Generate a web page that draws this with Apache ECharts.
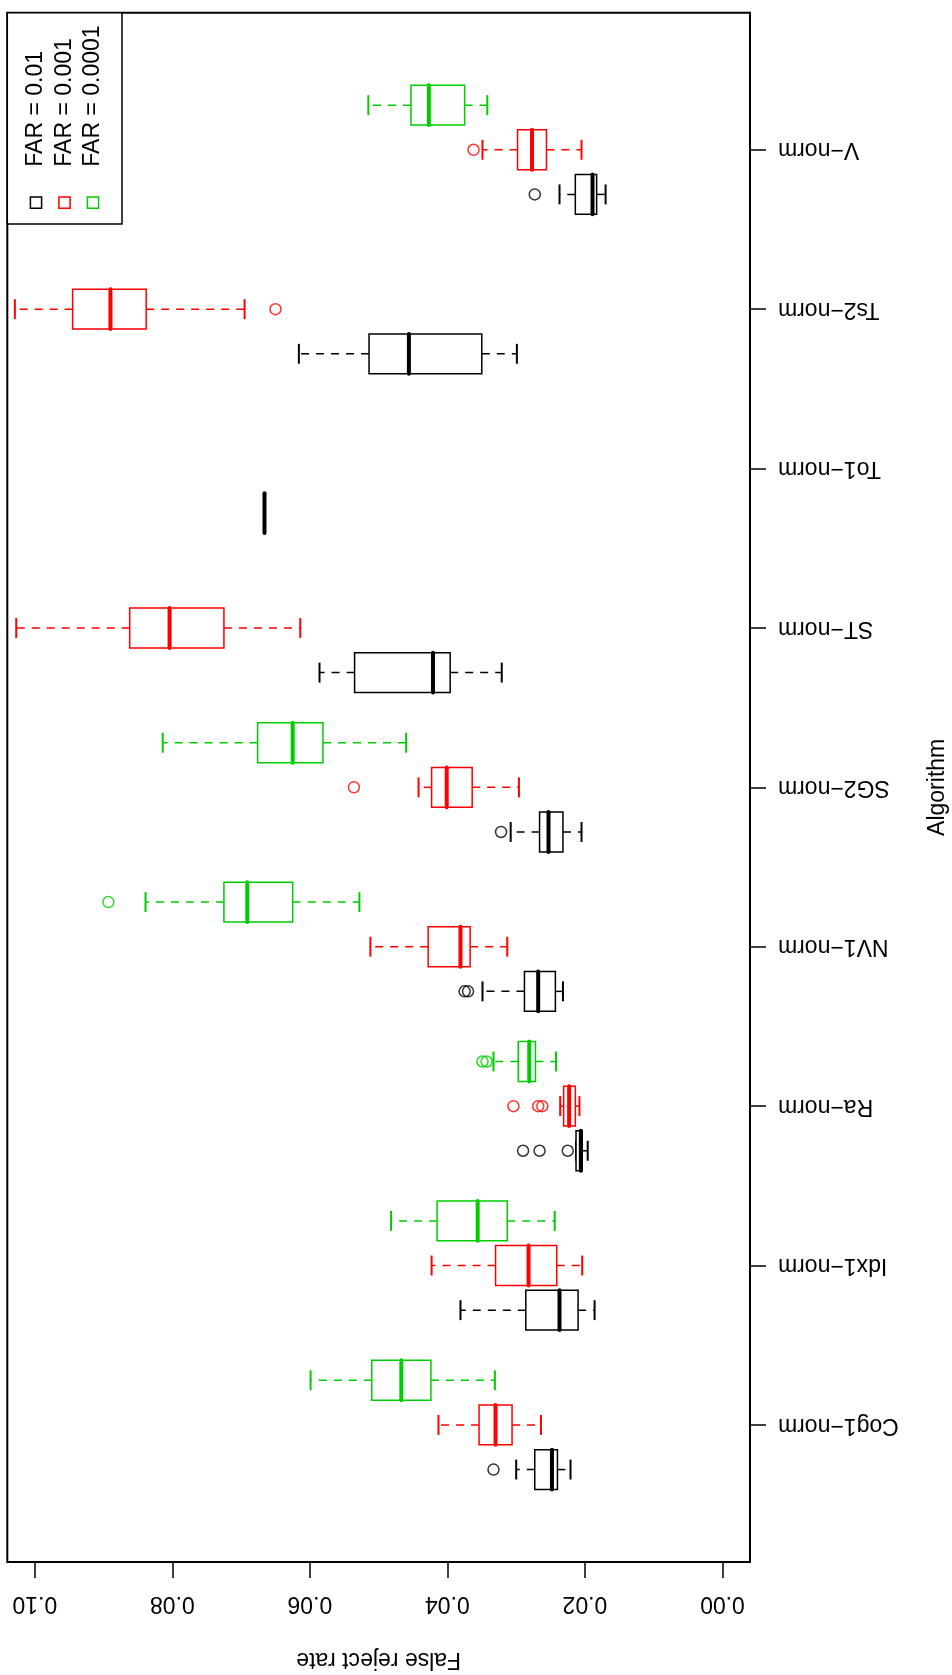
<!DOCTYPE html>
<html>
<head>
<meta charset="utf-8">
<script src="https://cdn.jsdelivr.net/npm/echarts@6/dist/echarts.min.js"></script>
<style>
  html, body { margin: 0; padding: 0; background: #ffffff; }
  #chart { width: 952px; height: 1675px; }
</style>
</head>
<body>
<div id="chart"></div>
<script>
// Algorithms, bottom to top
const categories = ['Cog1\u2212norm', 'Idx1\u2212norm', 'Ra\u2212norm', 'NV1\u2212norm', 'SG2\u2212norm',
                    'ST\u2212norm', 'To1\u2212norm', 'Ts2\u2212norm', 'V\u2212norm'];

const levelNames = ['FAR = 0.01', 'FAR = 0.001', 'FAR = 0.0001'];
const levelColors = ['#000000', '#FF0000', '#00CD00'];

const rateTicks = [0, 0.02, 0.04, 0.06, 0.08, 0.10];

// Five-number summaries per algorithm: [lower whisker, Q1, median, Q3, upper whisker]
const far01 = [
  [0.0221, 0.0240, 0.0248, 0.0273, 0.0300],
  [0.0186, 0.0210, 0.0237, 0.0286, 0.0381],
  [0.0196, 0.0204, 0.0206, 0.0213, 0.0213],
  [0.0232, 0.0243, 0.0268, 0.0288, 0.0349],
  [0.0205, 0.0232, 0.0253, 0.0266, 0.0308],
  [0.0321, 0.0396, 0.0421, 0.0535, 0.0586],
  [0.0666, 0.0666, 0.0666, 0.0666, 0.0666],
  [0.0299, 0.0350, 0.0456, 0.0514, 0.0616],
  [0.0170, 0.0183, 0.0189, 0.0214, 0.0237]
];
const far001 = [
  [0.0264, 0.0306, 0.0330, 0.0354, 0.0413],
  [0.0204, 0.0241, 0.0282, 0.0330, 0.0423],
  [0.0208, 0.0214, 0.0223, 0.0231, 0.0236],
  [0.0313, 0.0367, 0.0381, 0.0428, 0.0512],
  [0.0296, 0.0364, 0.0401, 0.0423, 0.0442],
  [0.0614, 0.0725, 0.0804, 0.0862, 0.1027],
  null,
  [0.0695, 0.0838, 0.0890, 0.0945, 0.1029],
  [0.0205, 0.0256, 0.0277, 0.0298, 0.0349]
];
const far0001 = [
  [0.0331, 0.0424, 0.0467, 0.0510, 0.0599],
  [0.0244, 0.0313, 0.0356, 0.0415, 0.0482],
  [0.0242, 0.0272, 0.0281, 0.0297, 0.0333],
  [0.0528, 0.0625, 0.0691, 0.0725, 0.0839],
  [0.0460, 0.0581, 0.0625, 0.0676, 0.0814],
  null,
  null,
  null,
  [0.0342, 0.0375, 0.0427, 0.0453, 0.0515]
];

// Outliers: [algorithm index, false reject rate]
const out01 = [[0, 0.0333], [2, 0.0225], [2, 0.0266], [2, 0.0290], [3, 0.0370], [3, 0.0375], [4, 0.0322], [8, 0.0273]];
const out001 = [[2, 0.0262], [2, 0.0268], [2, 0.0304], [4, 0.0536], [7, 0.0650], [8, 0.0362]];
const out0001 = [[2, 0.0343], [2, 0.0349], [3, 0.0893]];

const levelStats = [far01, far001, far0001];
const levelOutliers = [out01, out001, out0001];

// Position of each FAR level within an algorithm slot, and box half-height (axis units)
const slotOffsets = [-0.28, 0, 0.28];
const boxHalf = 0.125;

const FONT = '"Liberation Sans", Arial, Helvetica, sans-serif';
const FS = 23;

function boxRenderer(color) {
  return function (params, api) {
    const pos = api.value(0);
    const lo = api.value(1), q1 = api.value(2), md = api.value(3), q3 = api.value(4), hi = api.value(5);
    const yC = api.coord([0, pos])[1];
    const yT = api.coord([0, pos + boxHalf])[1];
    const yB = api.coord([0, pos - boxHalf])[1];
    const ysT = api.coord([0, pos + boxHalf / 2])[1];
    const ysB = api.coord([0, pos - boxHalf / 2])[1];
    const X = v => api.coord([v, pos])[0];
    const xLo = X(lo), xQ1 = X(q1), xMd = X(md), xQ3 = X(q3), xHi = X(hi);
    const dashed = { stroke: color, lineWidth: 1.5, lineDash: [8, 7] };
    return {
      type: 'group',
      children: [
        { type: 'line', shape: { x1: xQ3, y1: yC, x2: xHi, y2: yC }, style: dashed },
        { type: 'line', shape: { x1: xQ1, y1: yC, x2: xLo, y2: yC }, style: dashed },
        { type: 'line', shape: { x1: xHi, y1: ysT, x2: xHi, y2: ysB }, style: { stroke: color, lineWidth: 2 } },
        { type: 'line', shape: { x1: xLo, y1: ysT, x2: xLo, y2: ysB }, style: { stroke: color, lineWidth: 2 } },
        { type: 'rect', shape: { x: Math.min(xQ1, xQ3), y: yT, width: Math.abs(xQ3 - xQ1), height: yB - yT },
          style: { stroke: color, lineWidth: 1.5, fill: '#ffffff' } },
        { type: 'line', shape: { x1: xMd, y1: yT, x2: xMd, y2: yB },
          style: { stroke: color, lineWidth: 4, lineCap: 'round' } }
      ]
    };
  };
}

const series = [];
levelStats.forEach((stats, li) => {
  const data = [];
  stats.forEach((s, i) => {
    if (s) data.push([i + 1 + slotOffsets[li]].concat(s));
  });
  series.push({
    name: levelNames[li],
    type: 'custom',
    renderItem: boxRenderer(levelColors[li]),
    encode: { x: [1, 2, 3, 4, 5], y: 0 },
    data: data,
    z: 2
  });
  series.push({
    name: levelNames[li] + ' outliers',
    type: 'scatter',
    symbol: 'circle',
    symbolSize: 11,
    itemStyle: { color: 'rgba(0,0,0,0)', borderColor: levelColors[li], borderWidth: 1.5 },
    data: levelOutliers[li].map(([i, v]) => [v, i + 1 + slotOffsets[li]]),
    z: 3
  });
});

// Legend drawn in the upper-left corner of the frame
const legendGraphics = [
  { type: 'rect', shape: { x: 7.3, y: 12.7, width: 114.7, height: 211.3 },
    style: { fill: '#ffffff', stroke: '#000000', lineWidth: 1.5 }, z: 10 }
];
const legendX = [36, 64.5, 93];
levelNames.forEach((name, li) => {
  legendGraphics.push({
    type: 'rect', shape: { x: legendX[li] - 5.6, y: 202.7 - 5.6, width: 11.2, height: 11.2 },
    style: { fill: null, stroke: levelColors[li], lineWidth: 1.5 }, z: 11
  });
  legendGraphics.push({
    type: 'text', x: legendX[li], y: 166.7, rotation: Math.PI / 2,
    style: { text: name, fill: '#000000', font: FS + 'px ' + FONT, align: 'left', verticalAlign: 'middle' },
    z: 11
  });
});

const chart = echarts.init(document.getElementById('chart'), null, { renderer: 'canvas' });
chart.setOption({
  animation: false,
  backgroundColor: '#ffffff',
  grid: {
    left: 7.3, top: 12.7, right: 202, bottom: 113,
    show: true, borderColor: '#000000', borderWidth: 2, backgroundColor: 'transparent',
    containLabel: false, outerBoundsMode: 'none'
  },
  xAxis: {
    type: 'value',
    position: 'bottom',
    inverse: true,
    min: -0.004, max: 0.104,
    name: 'False reject rate',
    nameLocation: 'middle',
    nameRotate: 180,
    nameGap: 86,
    nameTextStyle: { fontSize: FS, fontFamily: FONT, color: '#000000' },
    axisLine: { show: false, onZero: false },
    splitLine: { show: false },
    axisTick: { show: true, inside: false, length: 16, customValues: rateTicks,
                lineStyle: { color: '#000000', width: 1.5 } },
    axisLabel: { show: true, customValues: rateTicks, rotate: 180, margin: 30,
                 fontSize: FS, fontFamily: FONT, color: '#000000',
                 formatter: v => Number(v).toFixed(2) }
  },
  yAxis: {
    type: 'value',
    position: 'right',
    min: 0.14, max: 9.86,
    name: 'Algorithm',
    nameLocation: 'middle',
    nameGap: 176,
    nameTextStyle: { fontSize: FS, fontFamily: FONT, color: '#000000' },
    axisLine: { show: false, onZero: false },
    splitLine: { show: false },
    axisTick: { show: true, inside: false, length: 16, customValues: categories.map((c, i) => i + 1),
                lineStyle: { color: '#000000', width: 1.5 } },
    axisLabel: { show: true, customValues: categories.map((c, i) => i + 1), rotate: 180, margin: 28,
                 fontSize: FS, fontFamily: FONT, color: '#000000',
                 formatter: v => categories[Math.round(v) - 1] }
  },
  series: series,
  graphic: legendGraphics
});
</script>
</body>
</html>
